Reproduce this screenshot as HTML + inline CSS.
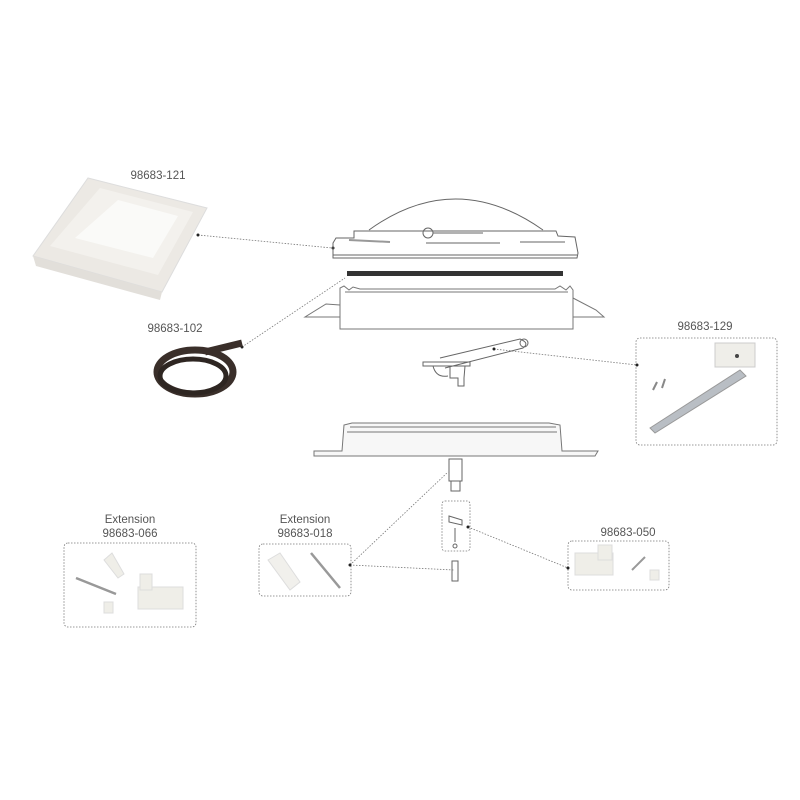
<!DOCTYPE html>
<html><head><meta charset="utf-8"><style>
html,body{margin:0;padding:0;background:#fff;}
svg{display:block}
text{font-family:"Liberation Sans",sans-serif;font-size:11.5px;fill:#555;text-anchor:middle}
</style></head><body>
<svg width="800" height="800" viewBox="0 0 800 800" xmlns="http://www.w3.org/2000/svg">
<g fill="none" stroke="#777" stroke-width="0.8" stroke-dasharray="1.5,1.5">
<line x1="198" y1="235" x2="332" y2="248"/>
<line x1="242" y1="347" x2="345" y2="278"/>
<line x1="494" y1="349" x2="637" y2="365"/>
<line x1="350" y1="565" x2="448" y2="472"/>
<line x1="350" y1="565" x2="454" y2="570"/>
<line x1="468" y1="527" x2="568" y2="568"/>
<rect x="636" y="338" width="141" height="107" rx="4"/>
<rect x="64" y="543" width="132" height="84" rx="4"/>
<rect x="259" y="544" width="92" height="52" rx="4"/>
<rect x="568" y="541" width="101" height="49" rx="4"/>
<rect x="442" y="501" width="28" height="50" rx="3"/>
</g>
<g fill="#222"><circle cx="198" cy="235" r="1.5"/><circle cx="242" cy="347" r="1.5"/><circle cx="637" cy="365" r="1.5"/><circle cx="350" cy="565" r="1.5"/><circle cx="568" cy="568" r="1.5"/><circle cx="468" cy="527" r="1.5"/><circle cx="494" cy="349" r="1.5"/><circle cx="333" cy="248" r="1.5"/></g>
<text x="158" y="179">98683-121</text>
<text x="175" y="332">98683-102</text>
<text x="705" y="330">98683-129</text>
<text x="130" y="523">Extension</text><text x="130" y="537">98683-066</text>
<text x="305" y="523">Extension</text><text x="305" y="537">98683-018</text>
<text x="628" y="536">98683-050</text>
<!-- lid -->
<polygon points="88,178 207,208 162,292 33,256" fill="#ece9e4" stroke="#ddd"/>
<polygon points="100,188 193,212 158,275 50,246" fill="#f3f1ed"/>
<polygon points="118,200 178,216 153,258 75,238" fill="#fafaf8"/>
<polygon points="33,256 162,292 160,300 36,266" fill="#e2dfda"/>
<!-- coil -->
<ellipse cx="195" cy="372" rx="38" ry="22" fill="none" stroke="#3a2f2a" stroke-width="7"/>
<ellipse cx="193" cy="376" rx="33" ry="17" fill="none" stroke="#2e2622" stroke-width="5"/>
<path d="M205,352 L242,343" stroke="#3a2f2a" stroke-width="7"/>
<!-- dome -->
<g fill="none" stroke="#666" stroke-width="1">
<path d="M369,230 Q455,168 543,230"/>
<path d="M333,258 L333,243 L336,238 L354,238 L354,231 L556,231 L558,236 L575,237 L578,253 L577,258 Z"/>
<line x1="333" y1="255" x2="577" y2="255"/>
<circle cx="428" cy="233" r="5"/><line x1="433" y1="233" x2="483" y2="233"/>
<line x1="349" y1="240" x2="390" y2="242" stroke="#999" stroke-width="2"/>
<line x1="426" y1="243" x2="500" y2="243"/><line x1="520" y1="242" x2="565" y2="242"/>
</g>
<rect x="347" y="271" width="216" height="5" fill="#333"/>
<!-- frame -->
<g fill="none" stroke="#777" stroke-width="1">
<path d="M340,329 L340,288 L344,286 L349,290 L353,287 L360,289 L555,289 L560,286 L566,290 L570,286 L573,290 L573,329 Z"/>
<line x1="345" y1="292" x2="568" y2="292"/>
<path d="M340,305 L326,304 L305,317 L340,317"/><path d="M573,298 L596,310 L604,317 L573,317"/>
</g>
<!-- crank -->
<g fill="none" stroke="#666" stroke-width="1">
<path d="M440,358 L520,339 Q530,343 523,348 L445,368"/>
<circle cx="524" cy="343" r="4"/>
<path d="M423,362 L470,362 L470,366 L423,366 Z"/>
<path d="M450,366 L450,378 L458,378 L458,386 L464,386 L464,378 L465,366"/>
<path d="M433,366 Q436,378 448,376"/>
</g>
<!-- lower frame -->
<g fill="none" stroke="#777" stroke-width="1">
<path d="M314,451 L342,451 L344,425 L352,423 L549,423 L560,425 L562,451 L598,451 L595,456 L314,456 Z" fill="#f7f7f7"/>
<line x1="350" y1="427" x2="556" y2="427"/>
<line x1="347" y1="432" x2="557" y2="432"/>
</g>
<!-- small parts -->
<g fill="none" stroke="#666" stroke-width="1">
<rect x="449" y="459" width="13" height="22"/><rect x="451" y="481" width="9" height="10"/>
<path d="M449,516 L462,520 L462,525 L449,522 Z"/><line x1="455" y1="528" x2="455" y2="542"/><circle cx="455" cy="546" r="2"/>
<rect x="452" y="561" width="6" height="20"/>
</g>
<!-- 129 parts -->
<path d="M650,428 L740,370 L746,376 L655,433 Z" fill="#b9bec4" stroke="#999"/>
<rect x="715" y="343" width="40" height="24" fill="#efeee9" stroke="#ccc"/>
<circle cx="737" cy="356" r="2" fill="#444"/>
<line x1="653" y1="390" x2="657" y2="382" stroke="#888" stroke-width="2"/><line x1="662" y1="388" x2="665" y2="379" stroke="#888" stroke-width="2"/>
<!-- 066 parts -->
<line x1="76" y1="578" x2="116" y2="594" stroke="#999" stroke-width="2.5"/>
<path d="M104,560 L112,553 L124,574 L118,578 Z" fill="#efeee8" stroke="#ddd"/>
<rect x="138" y="587" width="45" height="22" fill="#efeee8" stroke="#ddd"/>
<rect x="140" y="574" width="12" height="16" fill="#efeee8" stroke="#ddd"/>
<rect x="104" y="602" width="9" height="11" fill="#efeee8" stroke="#ddd"/>
<!-- 018 parts -->
<path d="M268,560 L280,553 L300,582 L290,590 Z" fill="#f1f0ec" stroke="#ddd"/>
<line x1="311" y1="553" x2="340" y2="588" stroke="#999" stroke-width="2.5"/>
<!-- 050 parts -->
<rect x="575" y="553" width="38" height="22" fill="#efeee8" stroke="#ddd"/>
<rect x="598" y="545" width="14" height="15" fill="#efeee8" stroke="#ddd"/>
<line x1="632" y1="570" x2="645" y2="557" stroke="#999" stroke-width="2"/>
<rect x="650" y="570" width="9" height="10" fill="#efeee8" stroke="#ddd"/>
</svg>
</body></html>
